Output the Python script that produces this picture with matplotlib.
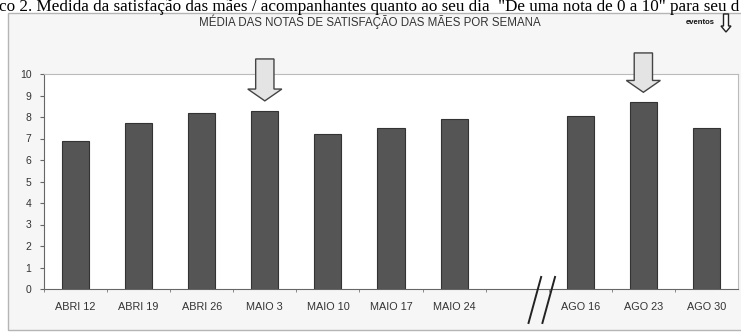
import matplotlib.pyplot as plt
from matplotlib.patches import Rectangle, FancyArrow
from matplotlib import rcParams

rcParams['font.family'] = ['Liberation Sans', 'DejaVu Sans']

# dados
semanas = ['ABRI 12', 'ABRI 19', 'ABRI 26', 'MAIO 3', 'MAIO 10', 'MAIO 17', 'MAIO 24',
           'AGO 16', 'AGO 23', 'AGO 30']
posicoes = [0, 1, 2, 3, 4, 5, 6, 8, 9, 10]
medias = [6.9, 7.7, 8.2, 8.3, 7.2, 7.5, 7.9, 8.05, 8.7, 7.5]
eventos = ['MAIO 3', 'AGO 23']

fig = plt.figure(figsize=(7.41, 3.33), dpi=100)
W, H = 741, 333

# legenda do documento (cortada no topo, como no original)
fig.text(-0.002, (H - 11) / H,
         'co 2. Medida da satisfação das mães / acompanhantes quanto ao seu dia  "De uma nota de 0 a 10" para seu d',
         family=['Liberation Serif', 'DejaVu Serif'], fontsize=12.3, va='baseline', ha='left')

# moldura do grafico
fig.patches.append(Rectangle((8 / W, 3 / H), 1.0, (H - 16) / H, transform=fig.transFigure,
                             facecolor='#f6f6f6', edgecolor='#b5b5b5', lw=1.0, zorder=-5))

ax = fig.add_axes([44 / W, (H - 289) / H, (738 - 44) / W, (289 - 74) / H])
ax.set_facecolor('white')
ax.bar(posicoes, medias, width=0.43, color='#555555', edgecolor='#333333', lw=0.8, zorder=2)

ax.set_xlim(-0.5, 10.5)
ax.set_ylim(0, 10)
ax.set_yticks(range(0, 11))
ax.set_xticks(posicoes)
ax.set_xticklabels(semanas)
ax.set_xticks([p + 0.5 for p in range(-1, 10)], minor=True)
ax.tick_params(axis='x', which='major', length=0, pad=9, labelsize=7.8, labelcolor='#333333')
ax.tick_params(axis='x', which='minor', length=2.5, direction='out', color='#777777')
ax.tick_params(axis='y', length=3, direction='out', labelsize=7.5, labelcolor='#333333',
               color='#666666', pad=6)
for s in ['left', 'bottom']:
    ax.spines[s].set_color('#666666')
for s in ['top', 'right']:
    ax.spines[s].set_color('#bbbbbb')

# setas de eventos
topos = {'MAIO 3': 10.7, 'AGO 23': 10.98}
for ev in eventos:
    i = semanas.index(ev)
    x = posicoes[i]
    top = topos[ev]
    tip = medias[i] + 0.45
    ax.add_patch(FancyArrow(x, top, 0, tip - top, width=0.29, head_width=0.54,
                            head_length=0.55, length_includes_head=True,
                            facecolor='#e4e4e4', edgecolor='#444444', lw=1.0,
                            clip_on=False, zorder=3))

# quebra do eixo //
for dx in [0, 0.22]:
    ax.plot([7.18 + dx, 7.38 + dx], [-1.58, 0.56], color='#222222', lw=1.4, clip_on=False, zorder=4)

fig.text(370 / W, (H - 22) / H, 'MÉDIA DAS NOTAS DE SATISFAÇÃO DAS MÃES POR SEMANA',
         ha='center', va='center', fontsize=8.3, color='#333333')

# legenda eventos
fig.text(715 / W, (H - 22) / H, 'eventos', ha='right', va='center', fontsize=5.5,
         color='#111111', fontweight='bold')
fig.patches.append(FancyArrow(726 / W, (H - 14) / H, 0, -18 / H, width=5 / W,
                              head_width=10 / W, head_length=6 / H,
                              length_includes_head=True, transform=fig.transFigure,
                              facecolor='white', edgecolor='#222222', lw=1.0))

fig.savefig('out.png', dpi=100)
